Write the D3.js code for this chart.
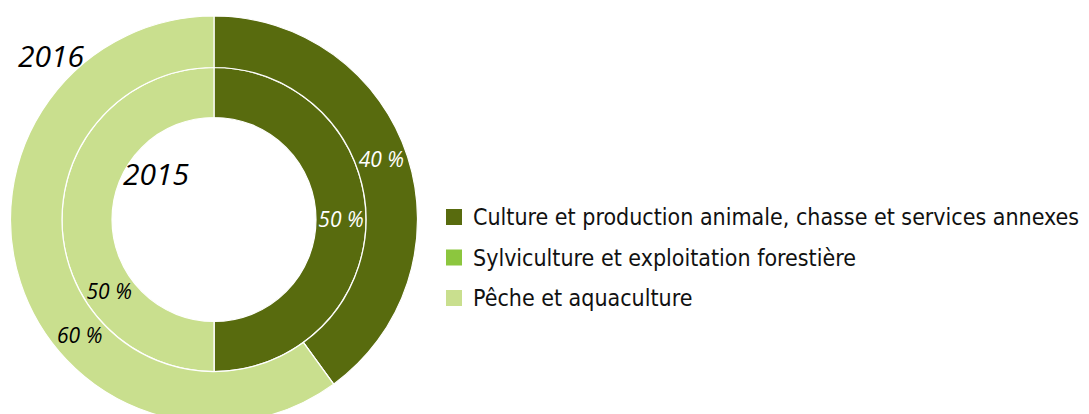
<!DOCTYPE html>
<html>
<head>
<meta charset="utf-8">
<script src="https://cdn.jsdelivr.net/npm/d3@7"></script>
<style>
  body { margin: 0; background: #fff; }
  .pct { font-family: "Open Sans", sans-serif; font-style: italic; font-size: 21px; }
  .year { font-family: "Open Sans", sans-serif; font-style: italic; font-size: 30px; fill: #000; }
  .legend text { font-family: "DejaVu Sans Condensed", "DejaVu Sans", sans-serif; font-size: 23px; fill: #111; }
</style>
</head>
<body>
<div id="chart"></div>
<script>
var categories = [
  "Culture et production animale, chasse et services annexes",
  "Sylviculture et exploitation forestière",
  "Pêche et aquaculture"
];
var colors = ["#586b0e", "#8cc63e", "#c9df8e"];
var values2015 = [50, 0, 50];
var values2016 = [40, 0, 60];
var years = ["2015", "2016"];

var width = 1089, height = 414;
var cx = 214, cy = 219.5;

var svg = d3.select("#chart")
  .append("svg")
  .attr("width", width)
  .attr("height", height);

var g = svg.append("g")
  .attr("transform", "translate(" + cx + "," + cy + ")");

var pie = d3.pie().sort(null).value(function (d) { return d; });

var color = d3.scaleOrdinal().domain(d3.range(categories.length)).range(colors);

// ring radii
var rings = [
  { year: years[0], values: values2015, r0: 102, r1: 152 },
  { year: years[1], values: values2016, r0: 152, r1: 203.5 }
];

// label angle shifts (radians) per slice, to follow the original placement
var labelShift = {
  "2015": [0, 0, -0.6],
  "2016": [-0.03, 0, -0.4]
};

rings.forEach(function (ring) {
  var arc = d3.arc().innerRadius(ring.r0).outerRadius(ring.r1);
  var arcs = pie(ring.values);

  g.append("g").selectAll("path")
    .data(arcs)
    .enter().append("path")
    .attr("d", arc)
    .attr("fill", function (d, i) { return color(i); })
    .attr("stroke", "#fff")
    .attr("stroke-width", 1.2);

  g.append("g").selectAll("text")
    .data(arcs.filter(function (d) { return d.value > 0; }))
    .enter().append("text")
    .attr("class", "pct")
    .attr("transform", function (d) {
      var shift = labelShift[ring.year][d.index];
      var c = arc.centroid({ startAngle: d.startAngle + shift, endAngle: d.endAngle + shift });
      return "translate(" + c[0] + "," + c[1] + ")";
    })
    .attr("text-anchor", "middle")
    .attr("dy", "0.35em")
    .attr("fill", function (d) { return d.index === 0 ? "#fff" : "#000"; })
    .text(function (d) { return d.value + " %"; });
});

// year labels
svg.append("text").attr("class", "year").attr("x", 18).attr("y", 67).text(years[1]);
svg.append("text").attr("class", "year").attr("x", 123).attr("y", 185).text(years[0]);

// legend
var legendY = d3.scalePoint().domain(categories).range([217, 298]);
var legend = svg.append("g").attr("class", "legend");
var item = legend.selectAll("g")
  .data(categories)
  .enter().append("g")
  .attr("transform", function (d) { return "translate(446," + legendY(d) + ")"; });

item.append("rect")
  .attr("x", 0).attr("y", -8)
  .attr("width", 16).attr("height", 16)
  .attr("fill", function (d, i) { return color(i); });

item.append("text")
  .attr("x", 27)
  .attr("dy", "0.35em")
  .text(function (d) { return d; });
</script>
</body>
</html>
